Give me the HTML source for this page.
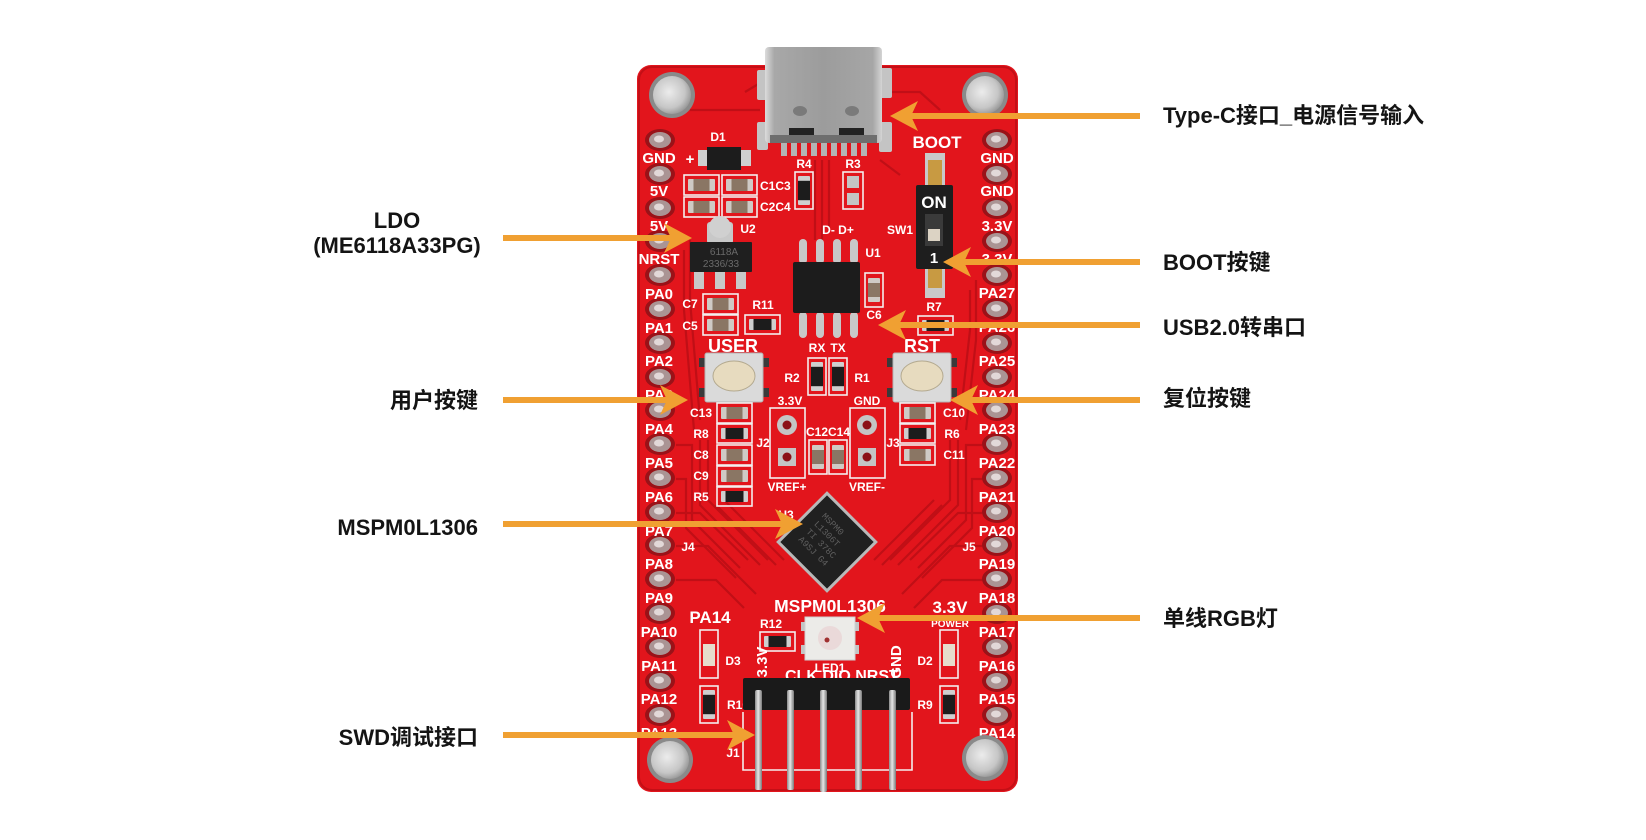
<!DOCTYPE html>
<html><head><meta charset="utf-8">
<style>
html,body{margin:0;padding:0;background:#fff;width:1646px;height:840px;overflow:hidden}
svg{display:block}
.lb{font-family:"Liberation Sans","Noto Sans CJK SC",sans-serif;font-size:22px;font-weight:bold;fill:#141414}
.sk{font-family:"Liberation Sans",sans-serif;font-weight:bold;fill:#fff}
.s12{font-size:12px}
.s15{font-size:15px}
.s17{font-size:17px}
</style></head><body>
<svg width="1646" height="840" viewBox="0 0 1646 840" xmlns="http://www.w3.org/2000/svg">
<defs>
 <radialGradient id="hole" cx="0.42" cy="0.42" r="0.65"><stop offset="0" stop-color="#ececec"/><stop offset="0.65" stop-color="#c6c6c6"/><stop offset="1" stop-color="#8e8e8e"/></radialGradient>
 <linearGradient id="metal" x1="0" x2="1"><stop offset="0" stop-color="#dcdcdc"/><stop offset="0.08" stop-color="#a8a8a8"/><stop offset="0.5" stop-color="#9c9c9c"/><stop offset="0.92" stop-color="#a6a6a6"/><stop offset="1" stop-color="#d4d4d4"/></linearGradient>
 <linearGradient id="pin" x1="0" x2="1"><stop offset="0" stop-color="#8a8a8a"/><stop offset="0.45" stop-color="#e6e6e6"/><stop offset="1" stop-color="#7a7a7a"/></linearGradient>
 <linearGradient id="cap" x1="0" x2="1"><stop offset="0" stop-color="#cfcac5"/><stop offset="0.2" stop-color="#cfcac5"/><stop offset="0.21" stop-color="#8a7664"/><stop offset="0.79" stop-color="#8a7664"/><stop offset="0.8" stop-color="#cfcac5"/></linearGradient>
 <linearGradient id="capv" x1="0" x2="0" y1="0" y2="1"><stop offset="0" stop-color="#cfcac5"/><stop offset="0.2" stop-color="#cfcac5"/><stop offset="0.21" stop-color="#8a7664"/><stop offset="0.79" stop-color="#8a7664"/><stop offset="0.8" stop-color="#cfcac5"/></linearGradient>
 <linearGradient id="res" x1="0" x2="1"><stop offset="0" stop-color="#cfcfcf"/><stop offset="0.16" stop-color="#cfcfcf"/><stop offset="0.17" stop-color="#1c1c1c"/><stop offset="0.83" stop-color="#1c1c1c"/><stop offset="0.84" stop-color="#cfcfcf"/></linearGradient>
 <linearGradient id="resv" x1="0" x2="0" y1="0" y2="1"><stop offset="0" stop-color="#cfcfcf"/><stop offset="0.16" stop-color="#cfcfcf"/><stop offset="0.17" stop-color="#1c1c1c"/><stop offset="0.83" stop-color="#1c1c1c"/><stop offset="0.84" stop-color="#cfcfcf"/></linearGradient>
 <g id="capH"><rect x="0" y="0" width="35" height="20" fill="none" stroke="#f4eeee" stroke-width="1.6"/><rect x="4" y="4" width="27" height="12" rx="1" fill="url(#cap)"/></g>
 <g id="resH"><rect x="0" y="0" width="35" height="19" fill="none" stroke="#f4eeee" stroke-width="1.6"/><rect x="4" y="4" width="27" height="11" rx="1" fill="url(#res)"/></g>
 <g id="resV"><rect x="0" y="0" width="18" height="37" fill="none" stroke="#f4eeee" stroke-width="1.6"/><rect x="3" y="4" width="12" height="29" rx="1" fill="url(#resv)"/></g>
 <g id="capV"><rect x="0" y="0" width="18" height="34" fill="none" stroke="#f4eeee" stroke-width="1.6"/><rect x="3" y="5" width="12" height="24" rx="1" fill="url(#capv)"/></g>
 <g id="padL"><ellipse cx="0" cy="0" rx="15" ry="11" fill="#9a1218"/><ellipse cx="0" cy="0" rx="11" ry="8" fill="#aa9494"/><ellipse cx="-1" cy="-1" rx="5" ry="3.5" fill="#e2d8d8"/></g>
</defs>

<!-- board -->
<rect x="637" y="65" width="381" height="727" rx="14" fill="#e2151c"/>
<rect x="639" y="67" width="377" height="723" rx="13" fill="none" stroke="#c40f16" stroke-width="2"/>

<!-- traces (texture) -->
<g fill="none" stroke="#bb0e16" stroke-width="2.2" opacity="0.85">
 <path d="M676,445 H692 V520 L740,568"/>
 <path d="M676,479 H686 V528 L736,578"/>
 <path d="M676,513 H700 L748,560"/>
 <path d="M676,546 H708 L756,594"/>
 <path d="M676,580 H716 L744,608"/>
 <path d="M700,440 V505 L760,565"/>
 <path d="M708,440 V500 L768,560"/>
 <path d="M716,505 L776,565"/>
 <path d="M724,500 L784,560"/>
 <path d="M982,445 H966 V520 L918,568"/>
 <path d="M982,479 H972 V528 L922,578"/>
 <path d="M982,513 H958 L910,560"/>
 <path d="M982,546 H950 L902,594"/>
 <path d="M982,580 H942 L914,608"/>
 <path d="M958,440 V505 L898,565"/>
 <path d="M950,440 V500 L890,560"/>
 <path d="M942,505 L882,565"/>
 <path d="M934,500 L874,560"/>
 <path d="M690,240 V300 L700,420"/>
 <path d="M684,250 V310 L694,430"/>
 <path d="M970,290 V330 L960,420"/>
 <path d="M976,280 V340 L966,430"/>
 <path d="M815,160 V240"/><path d="M822,160 V240"/><path d="M829,160 V230"/>
 <path d="M745,92 L765,80"/><path d="M880,92 L920,92 L940,110"/>
 <path d="M690,110 H760"/><path d="M880,160 L900,175"/>
</g>

<!-- left pads -->
<g>
 <use href="#padL" x="660" y="140"/><use href="#padL" x="660" y="174"/><use href="#padL" x="660" y="208"/>
 <use href="#padL" x="660" y="241"/><use href="#padL" x="660" y="275"/><use href="#padL" x="660" y="309"/>
 <use href="#padL" x="660" y="343"/><use href="#padL" x="660" y="377"/><use href="#padL" x="660" y="410"/>
 <use href="#padL" x="660" y="444"/><use href="#padL" x="660" y="478"/><use href="#padL" x="660" y="512"/>
 <use href="#padL" x="660" y="545"/><use href="#padL" x="660" y="579"/><use href="#padL" x="660" y="613"/>
 <use href="#padL" x="660" y="647"/><use href="#padL" x="660" y="681"/><use href="#padL" x="660" y="715"/>
</g>
<g>
 <use href="#padL" x="997" y="140"/><use href="#padL" x="997" y="174"/><use href="#padL" x="997" y="208"/>
 <use href="#padL" x="997" y="241"/><use href="#padL" x="997" y="275"/><use href="#padL" x="997" y="309"/>
 <use href="#padL" x="997" y="343"/><use href="#padL" x="997" y="377"/><use href="#padL" x="997" y="410"/>
 <use href="#padL" x="997" y="444"/><use href="#padL" x="997" y="478"/><use href="#padL" x="997" y="512"/>
 <use href="#padL" x="997" y="545"/><use href="#padL" x="997" y="579"/><use href="#padL" x="997" y="613"/>
 <use href="#padL" x="997" y="647"/><use href="#padL" x="997" y="681"/><use href="#padL" x="997" y="715"/>
</g>

<!-- pin labels -->
<g class="sk s15" text-anchor="middle">
 <text x="659" y="163">GND</text><text x="659" y="196">5V</text><text x="659" y="231">5V</text>
 <text x="659" y="264">NRST</text><text x="659" y="299">PA0</text><text x="659" y="333">PA1</text>
 <text x="659" y="366">PA2</text><text x="659" y="400">PA3</text><text x="659" y="434">PA4</text>
 <text x="659" y="468">PA5</text><text x="659" y="502">PA6</text><text x="659" y="536">PA7</text>
 <text x="659" y="569">PA8</text><text x="659" y="603">PA9</text><text x="659" y="637">PA10</text>
 <text x="659" y="671">PA11</text><text x="659" y="704">PA12</text><text x="659" y="738">PA13</text>
 <text x="997" y="163">GND</text><text x="997" y="196">GND</text><text x="997" y="231">3.3V</text>
 <text x="997" y="264">3.3V</text><text x="997" y="298">PA27</text><text x="997" y="332">PA26</text>
 <text x="997" y="366">PA25</text><text x="997" y="400">PA24</text><text x="997" y="434">PA23</text>
 <text x="997" y="468">PA22</text><text x="997" y="502">PA21</text><text x="997" y="536">PA20</text>
 <text x="997" y="569">PA19</text><text x="997" y="603">PA18</text><text x="997" y="637">PA17</text>
 <text x="997" y="671">PA16</text><text x="997" y="704">PA15</text><text x="997" y="738">PA14</text>
</g>

<!-- mounting holes -->
<g>
 <circle cx="672" cy="95" r="23" fill="#8a8a8a"/><circle cx="672" cy="95" r="19" fill="url(#hole)"/>
 <circle cx="985" cy="95" r="23" fill="#8a8a8a"/><circle cx="985" cy="95" r="19" fill="url(#hole)"/>
 <circle cx="670" cy="760" r="23" fill="#8a8a8a"/><circle cx="670" cy="760" r="19" fill="url(#hole)"/>
 <circle cx="985" cy="758" r="23" fill="#8a8a8a"/><circle cx="985" cy="758" r="19" fill="url(#hole)"/>
</g>

<!-- USB-C -->
<g>
 <rect x="757" y="70" width="11" height="30" rx="2" fill="#c4c4c4"/>
 <rect x="757" y="122" width="11" height="28" rx="2" fill="#c4c4c4"/>
 <rect x="879" y="68" width="13" height="30" rx="2" fill="#c4c4c4"/>
 <rect x="879" y="122" width="13" height="30" rx="2" fill="#c4c4c4"/>
 <g fill="#b4b4b4">
  <rect x="781" y="142" width="6" height="14"/><rect x="791" y="142" width="6" height="14"/><rect x="801" y="142" width="6" height="14"/>
  <rect x="811" y="142" width="6" height="14"/><rect x="821" y="142" width="6" height="14"/><rect x="831" y="142" width="6" height="14"/>
  <rect x="841" y="142" width="6" height="14"/><rect x="851" y="142" width="6" height="14"/><rect x="861" y="142" width="6" height="14"/>
 </g>
 <rect x="765" y="47" width="117" height="96" rx="4" fill="url(#metal)"/>
 <rect x="770" y="135" width="107" height="8" fill="#6e6e6e"/>
 <ellipse cx="800" cy="111" rx="7" ry="5" fill="#7a7a7a"/>
 <ellipse cx="852" cy="111" rx="7" ry="5" fill="#7a7a7a"/>
 <rect x="789" y="128" width="25" height="7" fill="#222"/>
 <rect x="839" y="128" width="25" height="7" fill="#222"/>
</g>

<!-- BOOT switch -->
<text class="sk s17" x="937" y="148" text-anchor="middle">BOOT</text>
<rect x="925" y="153" width="20" height="32" fill="#c9c9c9"/>
<rect x="928" y="160" width="14" height="25" fill="#c89a42"/>
<rect x="925" y="266" width="20" height="32" fill="#c9c9c9"/>
<rect x="928" y="266" width="14" height="22" fill="#c89a42"/>
<rect x="916" y="185" width="37" height="84" rx="2" fill="#1e1e1e"/>
<text class="sk" x="934" y="208" text-anchor="middle" font-size="17" fill="#eee">ON</text>
<rect x="925" y="214" width="18" height="32" fill="#3a3a3a"/>
<rect x="928" y="229" width="12" height="12" fill="#dcd3c4"/>
<text class="sk" x="934" y="263" text-anchor="middle" font-size="15" fill="#aaa">1</text>
<text class="sk s12" x="900" y="234" text-anchor="middle">SW1</text>
<use href="#resH" x="918" y="316"/>
<text class="sk s12" x="934" y="311" text-anchor="middle">R7</text>

<!-- D1 -->
<text class="sk s12" x="718" y="141" text-anchor="middle">D1</text>
<text class="sk" x="690" y="164" font-size="15" text-anchor="middle">+</text>
<rect x="698" y="150" width="12" height="16" fill="#cfcfcf"/>
<rect x="738" y="150" width="13" height="16" fill="#cfcfcf"/>
<rect x="707" y="147" width="34" height="23" fill="#1c1c1c"/>

<!-- caps C1-C4 -->
<use href="#capH" x="684" y="175"/><use href="#capH" x="722" y="175"/>
<use href="#capH" x="684" y="197"/><use href="#capH" x="722" y="197"/>
<text class="sk s12" x="760" y="190">C1C3</text>
<text class="sk s12" x="760" y="211">C2C4</text>

<!-- R4 R3 -->
<text class="sk s12" x="804" y="168" text-anchor="middle">R4</text>
<use href="#resV" x="795" y="172"/>
<text class="sk s12" x="853" y="168" text-anchor="middle">R3</text>
<rect x="843" y="172" width="20" height="37" fill="none" stroke="#f4eeee" stroke-width="1.6"/>
<rect x="847" y="176" width="12" height="12" fill="#c4c4c4"/>
<rect x="847" y="193" width="12" height="12" fill="#c4c4c4"/>

<!-- U2 LDO -->
<rect x="707" y="222" width="26" height="22" rx="3" fill="#c8c8c8"/>
<circle cx="720" cy="227" r="11" fill="#d0d0d0"/>
<rect x="694" y="270" width="10" height="19" fill="#c8c8c8"/>
<rect x="715" y="270" width="10" height="19" fill="#c8c8c8"/>
<rect x="736" y="270" width="10" height="19" fill="#c8c8c8"/>
<rect x="690" y="242" width="62" height="30" rx="1" fill="#1f1f1f"/>
<text x="724" y="255" font-family="Liberation Sans,sans-serif" font-size="10" fill="#6a6a6a" text-anchor="middle">6118A</text>
<text x="721" y="267" font-family="Liberation Sans,sans-serif" font-size="10" fill="#6a6a6a" text-anchor="middle">2336/33</text>
<text class="sk s12" x="748" y="233" text-anchor="middle">U2</text>

<!-- U1 CH340 -->
<g fill="#c8c8c8">
 <rect x="799" y="239" width="8" height="25" rx="4"/><rect x="816" y="239" width="8" height="25" rx="4"/>
 <rect x="833" y="239" width="8" height="25" rx="4"/><rect x="850" y="239" width="8" height="25" rx="4"/>
 <rect x="799" y="312" width="8" height="26" rx="4"/><rect x="816" y="312" width="8" height="26" rx="4"/>
 <rect x="833" y="312" width="8" height="26" rx="4"/><rect x="850" y="312" width="8" height="26" rx="4"/>
</g>
<rect x="793" y="262" width="67" height="51" rx="2" fill="#1c1c1c"/>
<text class="sk s12" x="838" y="234" text-anchor="middle">D- D+</text>
<text class="sk s12" x="873" y="257" text-anchor="middle">U1</text>
<use href="#capV" x="865" y="273"/>
<text class="sk s12" x="874" y="319" text-anchor="middle">C6</text>

<!-- C7 C5 R11 -->
<use href="#capH" x="703" y="294"/>
<use href="#capH" x="703" y="315"/>
<text class="sk s12" x="690" y="308" text-anchor="middle">C7</text>
<text class="sk s12" x="690" y="330" text-anchor="middle">C5</text>
<use href="#resH" x="745" y="315"/>
<text class="sk s12" x="763" y="309" text-anchor="middle">R11</text>

<!-- USER / RST buttons -->
<text class="sk" x="733" y="352" font-size="18" text-anchor="middle">USER</text>
<text class="sk" x="922" y="352" font-size="18" text-anchor="middle">RST</text>
<g fill="#3a3a3a">
 <rect x="699" y="358" width="8" height="9"/><rect x="699" y="388" width="8" height="9"/>
 <rect x="761" y="358" width="8" height="9"/><rect x="761" y="388" width="8" height="9"/>
 <rect x="887" y="358" width="8" height="9"/><rect x="887" y="388" width="8" height="9"/>
 <rect x="949" y="358" width="8" height="9"/><rect x="949" y="388" width="8" height="9"/>
</g>
<rect x="705" y="353" width="58" height="49" rx="2" fill="#dadada" stroke="#b4b4b4"/>
<ellipse cx="734" cy="376" rx="21" ry="15" fill="#e7dbbf" stroke="#b3a98f"/>
<rect x="893" y="353" width="58" height="49" rx="2" fill="#dadada" stroke="#b4b4b4"/>
<ellipse cx="922" cy="376" rx="21" ry="15" fill="#e7dbbf" stroke="#b3a98f"/>

<!-- RX TX R2 R1 -->
<text class="sk s12" x="817" y="352" text-anchor="middle">RX</text>
<text class="sk s12" x="838" y="352" text-anchor="middle">TX</text>
<use href="#resV" x="808" y="358"/><use href="#resV" x="829" y="358"/>
<text class="sk s12" x="792" y="382" text-anchor="middle">R2</text>
<text class="sk s12" x="862" y="382" text-anchor="middle">R1</text>

<!-- J2 J3 -->
<text class="sk s12" x="790" y="405" text-anchor="middle">3.3V</text>
<text class="sk s12" x="867" y="405" text-anchor="middle">GND</text>
<rect x="770" y="408" width="35" height="70" fill="none" stroke="#f4eeee" stroke-width="1.6"/>
<rect x="850" y="408" width="35" height="70" fill="none" stroke="#f4eeee" stroke-width="1.6"/>
<circle cx="787" cy="425" r="10" fill="#c4c4c4"/><circle cx="787" cy="425" r="4.5" fill="#8c1016"/>
<rect x="778" y="448" width="18" height="18" fill="#c4c4c4"/><circle cx="787" cy="457" r="4.5" fill="#8c1016"/>
<circle cx="867" cy="425" r="10" fill="#c4c4c4"/><circle cx="867" cy="425" r="4.5" fill="#8c1016"/>
<rect x="858" y="448" width="18" height="18" fill="#c4c4c4"/><circle cx="867" cy="457" r="4.5" fill="#8c1016"/>
<text class="sk s12" x="828" y="436" text-anchor="middle">C12C14</text>
<use href="#capV" x="809" y="440"/><use href="#capV" x="829" y="440"/>
<text class="sk s12" x="763" y="447" text-anchor="middle">J2</text>
<text class="sk s12" x="893" y="447" text-anchor="middle">J3</text>
<text class="sk s12" x="787" y="491" text-anchor="middle">VREF+</text>
<text class="sk s12" x="867" y="491" text-anchor="middle">VREF-</text>

<!-- left column -->
<use href="#capH" x="717" y="403"/><use href="#resH" x="717" y="424"/>
<use href="#capH" x="717" y="445"/><use href="#capH" x="717" y="466"/>
<use href="#resH" x="717" y="487"/>
<g class="sk s12" text-anchor="middle">
 <text x="701" y="417">C13</text><text x="701" y="438">R8</text><text x="701" y="459">C8</text>
 <text x="701" y="480">C9</text><text x="701" y="501">R5</text>
</g>
<!-- right column -->
<use href="#capH" x="900" y="403"/><use href="#resH" x="900" y="424"/><use href="#capH" x="900" y="445"/>
<g class="sk s12" text-anchor="middle">
 <text x="954" y="417">C10</text><text x="952" y="438">R6</text><text x="954" y="459">C11</text>
</g>

<!-- U3 QFN -->
<g transform="translate(827,542) rotate(45)">
 <rect x="-36" y="-36" width="72" height="72" fill="#b9b9b9"/>
 <rect x="-33" y="-33" width="66" height="66" fill="#202020"/>
 <g font-family="Liberation Mono,monospace" font-size="9" fill="#5e5e5e">
  <text x="-22" y="-14">MSPM0</text><text x="-22" y="-3">L1306T</text>
  <text x="-22" y="8">TI 378C</text><text x="-22" y="19">A9SJ G4</text>
 </g>
</g>
<text class="sk s12" x="786" y="519" text-anchor="middle">U3</text>
<text class="sk s12" x="688" y="551" text-anchor="middle">J4</text>
<text class="sk s12" x="969" y="551" text-anchor="middle">J5</text>

<!-- lower labels -->
<text class="sk" x="830" y="612" font-size="17.5" text-anchor="middle">MSPM0L1306</text>
<text class="sk s17" x="950" y="613" text-anchor="middle">3.3V</text>
<text class="sk" x="950" y="627" font-size="10" text-anchor="middle" fill="#f6dada">POWER</text>
<text class="sk s17" x="710" y="623" text-anchor="middle">PA14</text>

<!-- R12 LED1 -->
<text class="sk s12" x="771" y="628" text-anchor="middle">R12</text>
<use href="#resH" x="760" y="632"/>
<rect x="801" y="622" width="6" height="9" fill="#c4c4c4"/><rect x="801" y="645" width="6" height="9" fill="#c4c4c4"/>
<rect x="853" y="622" width="6" height="9" fill="#c4c4c4"/><rect x="853" y="645" width="6" height="9" fill="#c4c4c4"/>
<rect x="805" y="617" width="50" height="43" fill="#ecebe8" stroke="#cfcfcf"/>
<circle cx="830" cy="638" r="12" fill="#ead9d9"/>
<circle cx="827" cy="640" r="2.5" fill="#a03030"/>
<text class="sk s12" x="830" y="672" text-anchor="middle">LED1</text>

<!-- D3 R10 D2 R9 -->
<rect x="700" y="630" width="18" height="48" fill="none" stroke="#f4eeee" stroke-width="1.6"/>
<rect x="703" y="644" width="12" height="22" fill="#e6ddcc"/>
<text class="sk s12" x="733" y="665" text-anchor="middle">D3</text>
<use href="#resV" x="700" y="686"/>
<text class="sk s12" x="738" y="709" text-anchor="middle">R10</text>
<rect x="940" y="630" width="18" height="48" fill="none" stroke="#f4eeee" stroke-width="1.6"/>
<rect x="943" y="644" width="12" height="22" fill="#e6ddcc"/>
<text class="sk s12" x="925" y="665" text-anchor="middle">D2</text>
<use href="#resV" x="940" y="686"/>
<text class="sk s12" x="925" y="709" text-anchor="middle">R9</text>

<!-- SWD header -->
<path d="M743,712 V770 H760 V790 M912,712 V770 H895 V790 M760,770 H895" fill="none" stroke="#f4eeee" stroke-width="1.6"/>
<text class="sk" x="785" y="681" font-size="16">CLK DIO NRST</text>
<text class="sk" transform="translate(767,662) rotate(-90)" font-size="15" text-anchor="middle">3.3V</text>
<text class="sk" transform="translate(901,662) rotate(-90)" font-size="15" text-anchor="middle">GND</text>
<rect x="743" y="678" width="167" height="32" rx="2" fill="#1a1a1a"/>
<g fill="url(#pin)">
 <rect x="755" y="690" width="7" height="100" rx="2"/>
 <rect x="787" y="690" width="7" height="100" rx="2"/>
 <rect x="820" y="690" width="7" height="102" rx="2"/>
 <rect x="855" y="690" width="7" height="100" rx="2"/>
 <rect x="889" y="690" width="7" height="100" rx="2"/>
</g>
<text class="sk s12" x="733" y="757" text-anchor="middle">J1</text>

<!-- arrows -->
<g stroke="#f0a032" stroke-width="6" fill="none">
 <line x1="503" y1="238" x2="674" y2="238"/>
 <line x1="503" y1="400" x2="670" y2="400"/>
 <line x1="503" y1="524" x2="785" y2="524"/>
 <line x1="503" y1="735" x2="737" y2="735"/>
 <line x1="1140" y1="116" x2="908" y2="116"/>
 <line x1="1140" y1="262" x2="961" y2="262"/>
 <line x1="1140" y1="325" x2="896" y2="325"/>
 <line x1="1140" y1="400" x2="968" y2="400"/>
 <line x1="1140" y1="618" x2="875" y2="618"/>
</g>
<g fill="#f0a032">
 <polygon points="692,238 664,223 671,238 664,253"/>
 <polygon points="688,400 660,385 667,400 660,415"/>
 <polygon points="803,524 775,509 782,524 775,539"/>
 <polygon points="755,735 727,720 734,735 727,750"/>
 <polygon points="890,116 918,101 911,116 918,131"/>
 <polygon points="943,262 971,247 964,262 971,277"/>
 <polygon points="878,325 906,310 899,325 906,340"/>
 <polygon points="950,400 978,385 971,400 978,415"/>
 <polygon points="857,618 885,603 878,618 885,633"/>
</g>

<!-- callout labels -->
<text class="lb" x="397" y="228" text-anchor="middle">LDO</text>
<text class="lb" x="397" y="253" text-anchor="middle">(ME6118A33PG)</text>
<text class="lb" x="478" y="408" text-anchor="end">用户按键</text>
<text class="lb" x="478" y="535" text-anchor="end">MSPM0L1306</text>
<text class="lb" x="478" y="745" text-anchor="end">SWD调试接口</text>
<text class="lb" x="1163" y="123">Type-C接口_电源信号输入</text>
<text class="lb" x="1163" y="270">BOOT按键</text>
<text class="lb" x="1163" y="335">USB2.0转串口</text>
<text class="lb" x="1163" y="406">复位按键</text>
<text class="lb" x="1163" y="626">单线RGB灯</text>
</svg>
</body></html>
